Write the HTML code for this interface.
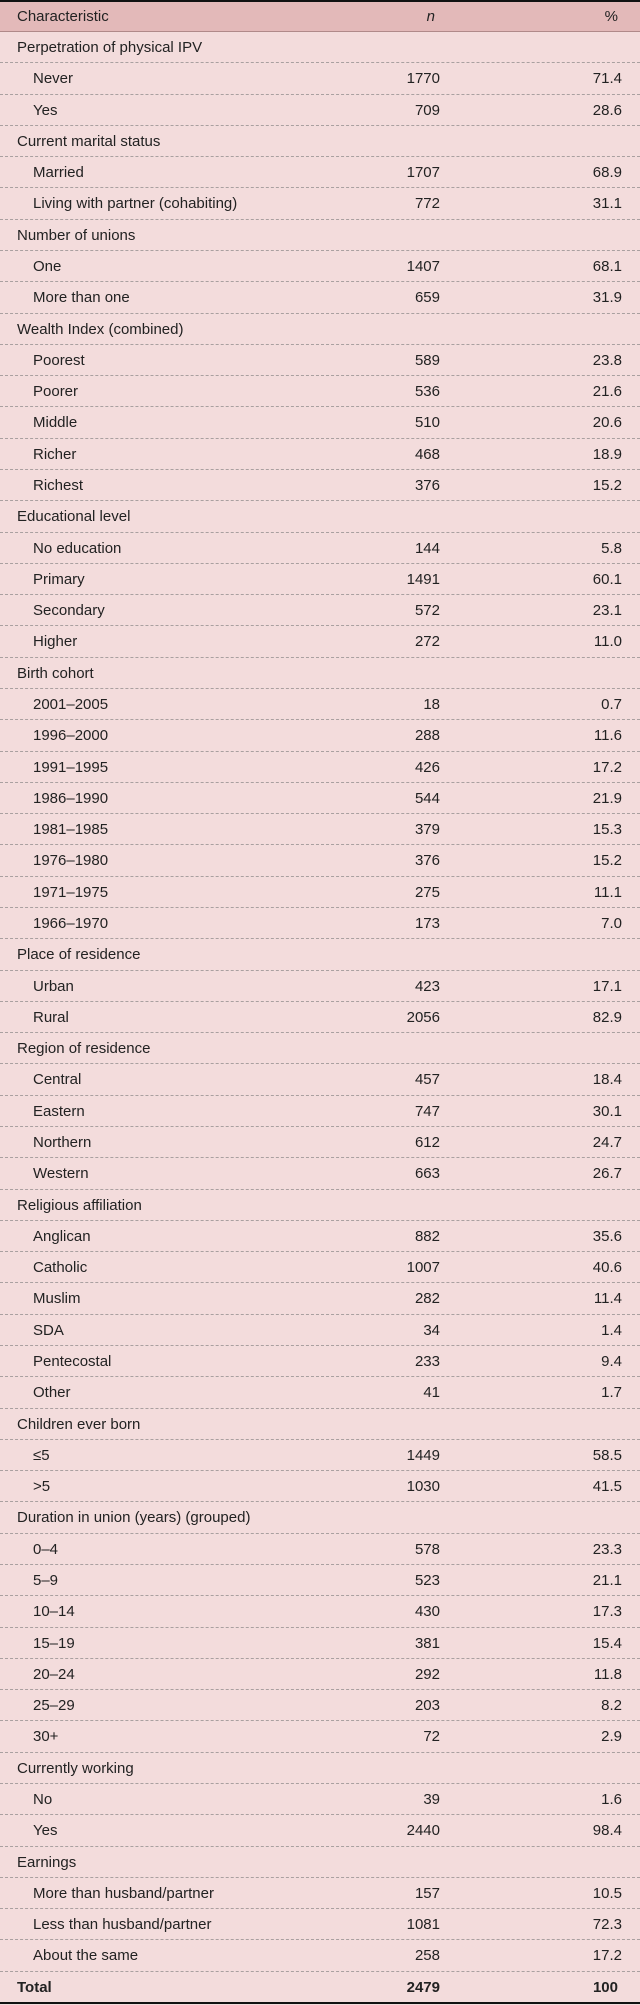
<!DOCTYPE html>
<html><head><meta charset="utf-8">
<style>
html,body{margin:0;padding:0;background:#f3dcdc;}
#t{position:relative;width:640px;height:2005px;font-family:"Liberation Sans",sans-serif;font-size:15px;color:#222;background:#f3dcdc;overflow:hidden}
.hdr{position:absolute;left:0;top:0;width:640px;height:32px;background:#e3b9b9;border-top:2px solid #111;border-bottom:1px solid #b08a8a;box-sizing:border-box}
.row{position:absolute;left:0;width:640px;border-bottom:1px dashed #a9a0a0;box-sizing:border-box}
.c{position:absolute;top:0;line-height:31px;white-space:nowrap}
.lab{left:17px}.ind{left:33px}
.n{right:200px;text-align:right}.p{right:18px;text-align:right}
.tot{font-weight:bold;border-bottom:2px solid #111}
</style></head><body>
<div id="t">
<div class="hdr">
<span class="c lab" style="line-height:29px">Characteristic</span>
<span class="c n" style="line-height:29px;font-style:italic;right:205px">n</span>
<span class="c p" style="line-height:29px;right:22px">%</span>
</div>
</div>
<script>
const labels=["Perpetration of physical IPV","Never","Yes","Current marital status","Married","Living with partner (cohabiting)","Number of unions","One","More than one","Wealth Index (combined)","Poorest","Poorer","Middle","Richer","Richest","Educational level","No education","Primary","Secondary","Higher","Birth cohort","2001–2005","1996–2000","1991–1995","1986–1990","1981–1985","1976–1980","1971–1975","1966–1970","Place of residence","Urban","Rural","Region of residence","Central","Eastern","Northern","Western","Religious affiliation","Anglican","Catholic","Muslim","SDA","Pentecostal","Other","Children ever born","≤5",">5","Duration in union (years) (grouped)","0–4","5–9","10–14","15–19","20–24","25–29","30+","Currently working","No","Yes","Earnings","More than husband/partner","Less than husband/partner","About the same","Total"];
const nVals=[null,1770,709,null,1707,772,null,1407,659,null,589,536,510,468,376,null,144,1491,572,272,null,18,288,426,544,379,376,275,173,null,423,2056,null,457,747,612,663,null,882,1007,282,34,233,41,null,1449,1030,null,578,523,430,381,292,203,72,null,39,2440,null,157,1081,258,2479];
const pVals=[null,"71.4","28.6",null,"68.9","31.1",null,"68.1","31.9",null,"23.8","21.6","20.6","18.9","15.2",null,"5.8","60.1","23.1","11.0",null,"0.7","11.6","17.2","21.9","15.3","15.2","11.1","7.0",null,"17.1","82.9",null,"18.4","30.1","24.7","26.7",null,"35.6","40.6","11.4","1.4","9.4","1.7",null,"58.5","41.5",null,"23.3","21.1","17.3","15.4","11.8","8.2","2.9",null,"1.6","98.4",null,"10.5","72.3","17.2","100"];
const t=document.getElementById('t');
const top0=32,rh=(2003-32)/labels.length;
labels.forEach((l,i)=>{
 const r=document.createElement('div');
 const last=i===labels.length-1;
 r.className='row'+(last?' tot':'');
 r.style.top=(top0+i*rh)+'px';r.style.height=(rh+(last?1:0))+'px';
 
 
 const isGroup=nVals[i]===null;
 const a=document.createElement('span');
 a.className='c '+((isGroup||last)?'lab':'ind');a.textContent=l;
 
 
 r.appendChild(a);
 if(!isGroup){
  const b=document.createElement('span');b.className='c n';b.textContent=nVals[i];
  
  
  r.appendChild(b);
  const c=document.createElement('span');c.className='c p';c.textContent=pVals[i];
  if(last)c.style.right='22px';
  
  
  r.appendChild(c);
 }
 t.appendChild(r);
});
</script>
</body></html>
